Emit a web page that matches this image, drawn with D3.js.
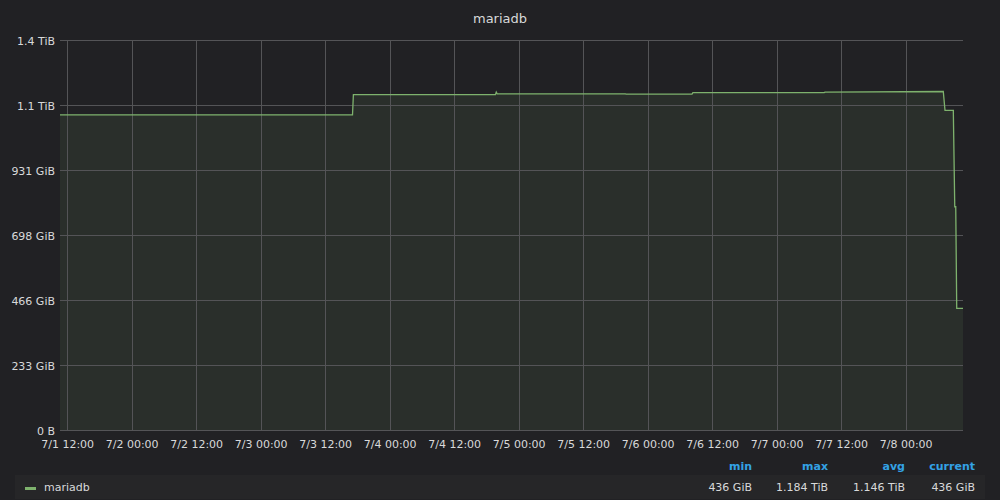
<!DOCTYPE html>
<html>
<head>
<meta charset="utf-8">
<script src="https://cdn.jsdelivr.net/npm/d3@7"></script>
<style>
  html, body { margin: 0; padding: 0; background: #212124; }
  svg { display: block; }
  text { font-family: "DejaVu Sans", sans-serif; }
</style>
</head>
<body>
<svg id="chart" width="1000" height="500"></svg>
<script>
// ---- data ----
const title = "mariadb";
const seriesName = "mariadb";
const times = [
  "2019-07-01T10:40", "2019-07-03T17:05", "2019-07-03T17:15", "2019-07-04T19:40",
  "2019-07-04T19:50", "2019-07-04T20:00", "2019-07-05T19:50", "2019-07-05T20:00",
  "2019-07-06T08:15", "2019-07-06T08:25", "2019-07-07T08:50", "2019-07-07T09:00",
  "2019-07-08T07:00", "2019-07-08T07:19", "2019-07-08T08:52", "2019-07-08T09:08",
  "2019-07-08T09:19", "2019-07-08T09:30", "2019-07-08T10:40"
];
const valuesTiB = [
  1.102, 1.102, 1.173, 1.173,
  1.182, 1.176, 1.176, 1.175,
  1.175, 1.180, 1.180, 1.182,
  1.184, 1.118, 1.118, 0.781,
  0.781, 0.4258, 0.4258
];
const yTickBytes = [0, 250e9, 500e9, 750e9, 1000e9, 1250e9, 1500e9];
const yTickLabels = ["0 B", "233 GiB", "466 GiB", "698 GiB", "931 GiB", "1.1 TiB", "1.4 TiB"];
const xTickTimes = [
  "2019-07-01T12:00", "2019-07-02T00:00", "2019-07-02T12:00", "2019-07-03T00:00",
  "2019-07-03T12:00", "2019-07-04T00:00", "2019-07-04T12:00", "2019-07-05T00:00",
  "2019-07-05T12:00", "2019-07-06T00:00", "2019-07-06T12:00", "2019-07-07T00:00",
  "2019-07-07T12:00", "2019-07-08T00:00"
];
const legendHeaders = ["min", "max", "avg", "current"];
const legendValues = ["436 GiB", "1.184 TiB", "1.146 TiB", "436 GiB"];
const domainStart = "2019-07-01T10:40";
const domainEnd = "2019-07-08T10:40";

// ---- drawing ----
const parse = d3.utcParse("%Y-%m-%dT%H:%M");
const TiB = Math.pow(2, 40);
const data = times.map((t, i) => ({ t: parse(t), v: valuesTiB[i] * TiB }));

const svg = d3.select("#chart");
const W = 1000, H = 500;
const m = { left: 60, right: 37, top: 40, bottom: 70 };
const x = d3.scaleUtc().domain([parse(domainStart), parse(domainEnd)]).range([m.left, W - m.right]);
const y = d3.scaleLinear().domain([0, 1500e9]).range([H - m.bottom, m.top]);

const textColor = "#d8d9da";
const gridColor = "#545457";

// title
svg.append("text").attr("x", W / 2).attr("y", 23).attr("text-anchor", "middle")
  .attr("fill", textColor).attr("font-size", 13).text(title);

// area (under grid)
const area = d3.area().x(d => x(d.t)).y0(y(0)).y1(d => y(d.v));
const line = d3.line().x(d => x(d.t)).y(d => y(d.v));
svg.append("path").datum(data).attr("d", area).attr("fill", "#7eb26d").attr("fill-opacity", 0.1);

// grid
const g = svg.append("g");
g.selectAll(".hg").data(yTickBytes).enter().append("line")
  .attr("x1", m.left).attr("x2", W - m.right)
  .attr("y1", d => Math.round(y(d)) + 0.5).attr("y2", d => Math.round(y(d)) + 0.5)
  .attr("stroke", gridColor).attr("stroke-width", 1);
g.selectAll(".vg").data(xTickTimes).enter().append("line")
  .attr("x1", d => Math.round(x(parse(d))) + 0.5).attr("x2", d => Math.round(x(parse(d))) + 0.5)
  .attr("y1", m.top).attr("y2", H - m.bottom)
  .attr("stroke", gridColor).attr("stroke-width", 1);

// y labels
const yAxis = d3.axisLeft(y).tickValues(yTickBytes).tickFormat((d, i) => yTickLabels[i]).tickSize(0).tickPadding(5);
const ya = svg.append("g").attr("transform", `translate(${m.left},1)`).call(yAxis);
ya.select(".domain").remove();
ya.selectAll("text").attr("fill", textColor).attr("font-size", 11).attr("font-family", "DejaVu Sans");

// x labels
const xAxis = d3.axisBottom(x).tickValues(xTickTimes.map(parse)).tickFormat(d3.utcFormat("%-m/%-d %H:%M")).tickSize(0).tickPadding(10);
const xa = svg.append("g").attr("transform", `translate(0,${H - m.bottom})`).call(xAxis);
xa.select(".domain").remove();
xa.selectAll("text").attr("fill", textColor).attr("font-size", 11).attr("font-family", "DejaVu Sans");

// line
svg.append("path").datum(data).attr("d", line).attr("fill", "none").attr("stroke", "#7eb26d").attr("stroke-width", 1.3);

// legend
const lg = svg.append("g");
lg.append("rect").attr("x", 15).attr("y", 475).attr("width", 970).attr("height", 24).attr("fill", "#262628");
lg.append("rect").attr("x", 25).attr("y", 487).attr("width", 11).attr("height", 3).attr("fill", "#7eb26d");
lg.append("text").attr("x", 44).attr("y", 491).attr("fill", textColor).attr("font-size", 11).text(seriesName);
const colRight = [752, 828, 905, 975];
lg.selectAll(".hd").data(legendHeaders).enter().append("text")
  .attr("x", (d, i) => colRight[i]).attr("y", 470).attr("text-anchor", "end")
  .attr("fill", "#33a2e5").attr("font-weight", "bold").attr("font-size", 11).text(d => d);
lg.selectAll(".lv").data(legendValues).enter().append("text")
  .attr("x", (d, i) => colRight[i]).attr("y", 491).attr("text-anchor", "end")
  .attr("fill", textColor).attr("font-size", 11).text(d => d);
</script>
</body>
</html>
